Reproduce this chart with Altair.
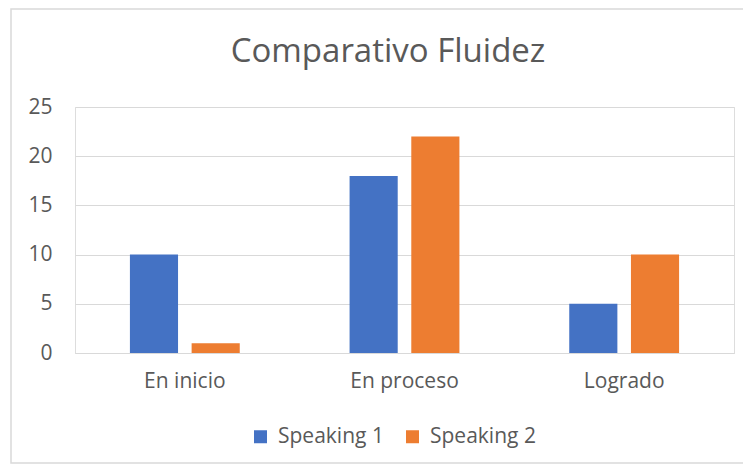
import altair as alt
import pandas as pd

categories = ["En inicio", "En proceso", "Logrado"]
series_names = ["Speaking 1", "Speaking 2"]
speaking1 = [10, 18, 5]
speaking2 = [1, 22, 10]
colors = ["#4472C4", "#ED7D31"]
y_ticks = [0, 5, 10, 15, 20, 25]

rows = []
for c, v in zip(categories, speaking1):
    rows.append({"Categoria": c, "Serie": series_names[0], "Valor": v})
for c, v in zip(categories, speaking2):
    rows.append({"Categoria": c, "Serie": series_names[1], "Valor": v})
df = pd.DataFrame(rows)

W, H = 659, 246
FONT = "Open Sans"
TXT = "#595959"

bars = alt.Chart(df).mark_bar().encode(
    x=alt.X("Categoria:N", sort=categories, title=None,
            scale=alt.Scale(paddingInner=0.5, paddingOuter=0.25),
            axis=alt.Axis(labelAngle=0, labelFontSize=21, labelColor=TXT, labelFont=FONT,
                          ticks=False, domain=True, domainColor="#d9d9d9", labelPadding=17)),
    xOffset=alt.XOffset("Serie:N", sort=series_names,
                        scale=alt.Scale(paddingInner=0.22, paddingOuter=0)),
    y=alt.Y("Valor:Q", title=None,
            scale=alt.Scale(domain=[0, 25], nice=False),
            axis=alt.Axis(values=y_ticks, ticks=False, domain=False, gridColor="#d9d9d9",
                          labelFontSize=21, labelColor=TXT, labelFont=FONT, labelPadding=23)),
    color=alt.Color("Serie:N", sort=series_names,
                    scale=alt.Scale(domain=series_names, range=colors),
                    legend=alt.Legend(title=None, orient="none", direction="horizontal",
                                      legendX=175, legendY=319, symbolType="square",
                                      symbolSize=169, symbolStrokeWidth=0, labelFontSize=21,
                                      labelColor=TXT, labelFont=FONT, labelOffset=7,
                                      columnPadding=18)),
)

frame = alt.Chart(pd.DataFrame({"t": ["Comparativo Fluidez"]})).mark_rect(
    fill=None, stroke="#d9d9d9", strokeWidth=1.5
).encode(x=alt.value(-64), x2=alt.value(700), y=alt.value(-98), y2=alt.value(356))

title = alt.Chart(pd.DataFrame({"t": ["Comparativo Fluidez"]})).mark_text(
    font=FONT, fontSize=33, color=TXT, align="center", baseline="alphabetic"
).encode(text="t:N", x=alt.value(313), y=alt.value(-45))

chart = alt.layer(frame, bars, title).properties(
    width=W, height=H,
    autosize=alt.AutoSizeParams(type="none"),
    padding={"left": 67, "top": 99, "right": 9, "bottom": 112},
).configure_view(stroke=None).configure(background="white")

chart.save("out.html", embed_options={"renderer": "svg", "actions": False})
